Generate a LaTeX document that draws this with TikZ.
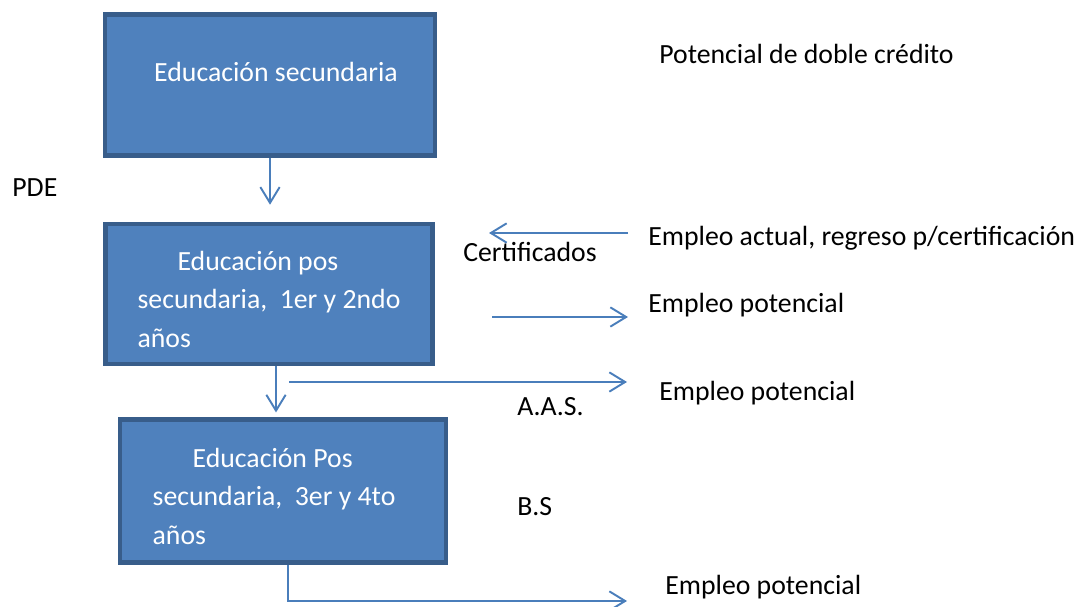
\documentclass[tikz,border=0pt]{standalone}
\usepackage{fontspec}
\setmainfont{Carlito}
\usetikzlibrary{arrows.meta}
\usetikzlibrary{positioning}
\definecolor{OfficeBlue}{HTML}{4F81BD}
\definecolor{OfficeEdge}{HTML}{385D8A}
\definecolor{LinkBlue}{HTML}{4A7EBB}
\tikzstyle{BodyFont}  = [font=\fontsize{15.8pt}{22pt}\selectfont]
\tikzstyle{StageBox}  = [BodyFont, rectangle, fill=OfficeBlue, draw=OfficeEdge, line width=2.6pt, text=white, align=left, inner sep=0pt]
\tikzstyle{PlainText} = [BodyFont, anchor=west, inner sep=0pt, text=black]
\tikzstyle{Link}      = [draw=LinkBlue, line width=1.1pt, -{Straight Barb[length=9pt, width=11pt, line width=1.1pt]}]

\begin{document}
\begin{tikzpicture}[x=0.02cm, y=-0.02cm]
\useasboundingbox (0,0) rectangle (1080,607);

%% ------------------------------------------------------------------ [ Stages ]
\node (sec) [StageBox, align=center,
             minimum width = 6.6cm, minimum height = 2.83cm] at (270,85)
      {\hspace*{0.24cm}Educación secundaria\\[-7pt]~};

\node (pos12) [StageBox,
               minimum width = 6.55cm, minimum height = 2.8cm] at (269,294)
      {\rule{0pt}{17pt}\hspace*{0.8cm}Educación pos\\secundaria,\ \ 1er y 2ndo\\años};

\node (pos34) [StageBox,
               minimum width = 6.52cm, minimum height = 2.85cm] at (283,491)
      {\rule{0pt}{17pt}\hspace*{0.8cm}Educación Pos\\secundaria,\ \ 3er y 4to\rule{0.36cm}{0pt}\\años};

%% ------------------------------------------------------------------- [ Texts ]
\node (dual)  [PlainText] at (659,54)  {Potencial de doble crédito};
\node (pde)   [PlainText] at (12,188)  {PDE};
\node (cert)  [PlainText] at (463,252) {Certificados};
\node (empA)  [PlainText] at (648,238) {Empleo actual, regreso p/certificación};
\node (empB)  [PlainText] at (648,305) {Empleo potencial};
\node (empC)  [PlainText] at (659,393) {Empleo potencial};
\node (aas)   [PlainText] at (517,407) {A.A.S.};
\node (bs)    [PlainText] at (517,507) {B.S};
\node (empD)  [PlainText] at (665,587) {Empleo potencial};

%% ------------------------------------------------------------------- [ Links ]
\coordinate (certFrom) at (628,233);
\coordinate (certTo)   at (489,233);
\coordinate (jobFrom)  at (492,317);
\coordinate (jobTo)    at (628,317);
\coordinate (aasFrom)  at (289,382);
\coordinate (aasTo)    at (627,382);
\coordinate (bsTo)     at (627,601);

\draw [Link, shorten >= 0.34cm] (sec.south) -- (sec.south |- pos12.north);
\draw [Link, shorten >= 0.1cm] ([xshift=0.14cm]pos12.south) -- ([xshift=0.14cm]pos12.south |- pos34.north);
\draw [Link] (certFrom) -- (certTo);
\draw [Link] (jobFrom) -- (jobTo);
\draw [Link] (aasFrom) -- (aasTo);
\draw [Link] ([xshift=0.1cm]pos34.south) |- (bsTo);
\end{tikzpicture}
\end{document}
